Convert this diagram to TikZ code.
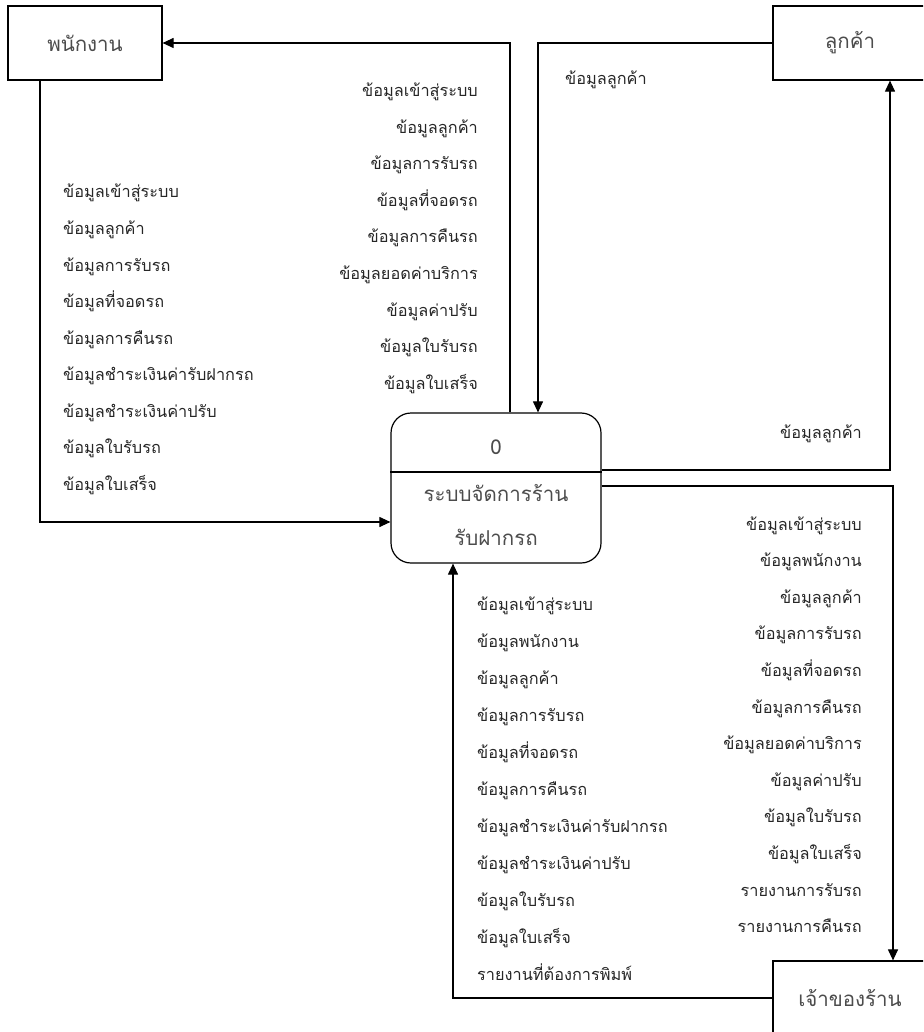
\documentclass[tikz,border=0pt]{standalone}
\usepackage{fontspec}
\newfontfamily\thai[Script=Thai]{Loma}
\usetikzlibrary{arrows.meta,positioning,calc}
\tikzset{
entity/.style = {draw, fill=white, rectangle, line width=1.2pt, minimum width=154pt, minimum height=74pt, font=\thai\fontsize{20.5}{24}\selectfont, text=black!70},
process/.style = {draw, rounded corners=20pt, line width=1.2pt, minimum width=210pt, minimum height=150pt},
ptext/.style = {font=\thai\fontsize{20.5}{44}\selectfont, text=black!70, align=center},
lbl/.style = {inner sep=0pt, font=\thai\fontsize{16.3}{18}\selectfont, text=black!85},
flow/.style = {->, line width=1.1pt}
}

\begin{document}
\begin{tikzpicture}[x=1pt, y=-1pt, >={Triangle[length=11pt,width=10pt]}]
  \useasboundingbox (0,0) rectangle (923,1032);
  \clip (0,0) rectangle (923,1032);

  % process
  \node [process]               (proc)   at (496,488) {};
  \node [ptext]                 (pnum)   at (496,447) {0};
  \node [ptext]                 (pname)  at (496,515) {ระบบจัดการร้าน\\รับฝากรถ};
  \draw [line width=1.2pt] ([yshift=16pt]proc.west) -- ([yshift=16pt]proc.east);

  % external entities
  \node [entity]                (staff)  at (85,43)   {พนักงาน};
  \node [entity]                (cust)   at (850,43)  {ลูกค้า};
  \node [entity]                (owner)  at (850,998) {เจ้าของร้าน};

  % flows
  \draw [flow] ([xshift=14pt]proc.north) |- (staff.east);
  \draw [flow] ([xshift=-45pt]staff.south) |- ([yshift=-34pt]proc.west);
  \draw [flow] (cust.west) -| ([xshift=42pt]proc.north);
  \draw [flow] ([yshift=18pt]proc.east) -| ([xshift=40pt]cust.south);
  \draw [flow] ([yshift=2pt]proc.east) -| ([xshift=43pt]owner.north);
  \draw [flow] (owner.west) -| ([xshift=-43pt]proc.south);

  % labels
  \foreach \t [count=\i] in {ข้อมูลเข้าสู่ระบบ, ข้อมูลลูกค้า, ข้อมูลการรับรถ, ข้อมูลที่จอดรถ, ข้อมูลการคืนรถ, ข้อมูลยอดค่าบริการ, ข้อมูลค่าปรับ, ข้อมูลใบรับรถ, ข้อมูลใบเสร็จ}
    \node [lbl, anchor=base east] (tostaff\i) at (478,{97+36.5*(\i-1)}) {\t};
  \foreach \t [count=\i] in {ข้อมูลเข้าสู่ระบบ, ข้อมูลลูกค้า, ข้อมูลการรับรถ, ข้อมูลที่จอดรถ, ข้อมูลการคืนรถ, ข้อมูลชำระเงินค่ารับฝากรถ, ข้อมูลชำระเงินค่าปรับ, ข้อมูลใบรับรถ, ข้อมูลใบเสร็จ}
    \node [lbl, anchor=base west] (fromstaff\i) at (63,{198+36.5*(\i-1)}) {\t};
  \node [lbl, anchor=base west] (fromcust) at (565,85)  {ข้อมูลลูกค้า};
  \node [lbl, anchor=base east] (tocust)   at (862,438) {ข้อมูลลูกค้า};
  \foreach \t [count=\i] in {ข้อมูลเข้าสู่ระบบ, ข้อมูลพนักงาน, ข้อมูลลูกค้า, ข้อมูลการรับรถ, ข้อมูลที่จอดรถ, ข้อมูลการคืนรถ, ข้อมูลยอดค่าบริการ, ข้อมูลค่าปรับ, ข้อมูลใบรับรถ, ข้อมูลใบเสร็จ, รายงานการรับรถ, รายงานการคืนรถ}
    \node [lbl, anchor=base east] (toowner\i) at (862,{530+36.6*(\i-1)}) {\t};
  \foreach \t [count=\i] in {ข้อมูลเข้าสู่ระบบ, ข้อมูลพนักงาน, ข้อมูลลูกค้า, ข้อมูลการรับรถ, ข้อมูลที่จอดรถ, ข้อมูลการคืนรถ, ข้อมูลชำระเงินค่ารับฝากรถ, ข้อมูลชำระเงินค่าปรับ, ข้อมูลใบรับรถ, ข้อมูลใบเสร็จ, รายงานที่ต้องการพิมพ์}
    \node [lbl, anchor=base west] (fromowner\i) at (477,{610+37*(\i-1)}) {\t};
\end{tikzpicture}
\end{document}
